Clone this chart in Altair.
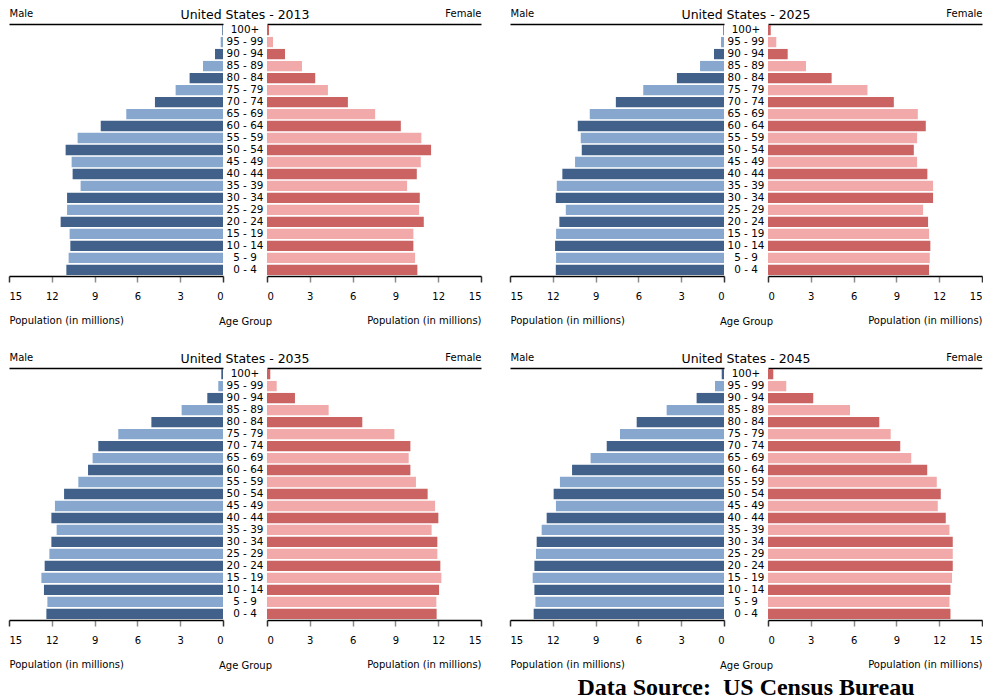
import altair as alt
import pandas as pd

FONT = "DejaVu Sans"

ages = ["0 - 4", "5 - 9", "10 - 14", "15 - 19", "20 - 24", "25 - 29", "30 - 34",
        "35 - 39", "40 - 44", "45 - 49", "50 - 54", "55 - 59", "60 - 64", "65 - 69",
        "70 - 74", "75 - 79", "80 - 84", "85 - 89", "90 - 94", "95 - 99", "100+"]
order_top_down = ages[::-1]

male_2013 = [10.98, 10.82, 10.70, 10.75, 11.38, 10.93, 10.93, 9.98, 10.54, 10.61, 11.03,
             10.19, 8.57, 6.78, 4.77, 3.32, 2.34, 1.40, 0.56, 0.16, 0.05]
female_2013 = [10.54, 10.38, 10.26, 10.26, 10.99, 10.66, 10.71, 9.82, 10.50, 10.78, 11.50,
               10.82, 9.38, 7.58, 5.67, 4.27, 3.38, 2.45, 1.26, 0.42, 0.14]
male_2025 = [11.79, 11.77, 11.84, 11.77, 11.54, 11.09, 11.79, 11.72, 11.33, 10.44, 9.97,
             10.04, 10.25, 9.41, 7.58, 5.66, 3.30, 1.68, 0.70, 0.21, 0.05]
female_2025 = [11.29, 11.34, 11.38, 11.29, 11.22, 10.87, 11.57, 11.57, 11.17, 10.45, 10.22,
               10.45, 11.06, 10.50, 8.82, 6.97, 4.46, 2.66, 1.38, 0.58, 0.19]
male_2035 = [12.38, 12.31, 12.55, 12.73, 12.50, 12.17, 12.03, 11.66, 12.03, 11.78, 11.14,
             10.14, 9.46, 9.14, 8.74, 7.34, 5.02, 2.90, 1.10, 0.33, 0.12]
female_2035 = [11.89, 11.87, 12.06, 12.22, 12.15, 11.94, 11.94, 11.54, 12.01, 11.78, 11.26,
               10.44, 10.05, 9.93, 10.05, 8.93, 6.68, 4.32, 1.96, 0.68, 0.23]
male_2045 = [13.34, 13.22, 13.29, 13.41, 13.29, 13.18, 13.13, 12.78, 12.43, 11.78, 11.94,
             11.50, 10.65, 9.35, 8.22, 7.29, 6.12, 4.02, 1.92, 0.63, 0.16]
female_2045 = [12.79, 12.72, 12.79, 12.90, 12.95, 12.95, 12.95, 12.72, 12.46, 11.90, 12.11,
               11.83, 11.16, 10.04, 9.27, 8.60, 7.80, 5.75, 3.17, 1.28, 0.37]

ticks = [0, 3, 6, 9, 12, 15]

MALE_DARK, MALE_LIGHT = "#41618b", "#87a7cf"
FEM_DARK, FEM_LIGHT = "#cb6363", "#f1a9a9"

W, H, MID = 214, 252, 44


def yscale():
    return alt.Scale(domain=order_top_down, paddingInner=0.14, paddingOuter=0.08)


def bottom_axis(anchor, align):
    return alt.Axis(
        values=ticks, orient="bottom", grid=False, title="Population (in millions)",
        titleAnchor=anchor, titleAlign=align, titleFont=FONT, titleFontSize=10,
        titleFontWeight="normal", titleColor="black", titlePadding=14,
        labelFont=FONT, labelFontSize=10, labelColor="black", labelPadding=9,
        tickSize=6, tickWidth=1.5,
        tickColor={"condition": {"test": "datum.value == 0 || datum.value == 15", "value": "#333333"}, "value": "#8c8c8c"},
        domainColor="black", domainWidth=1.3,
    )


def top_axis(title, anchor, align):
    return alt.Axis(
        orient="top", labels=False, ticks=False, grid=False, title=title,
        titleAnchor=anchor, titleAlign=align, titleFont=FONT, titleFontSize=10,
        titleFontWeight="normal", titleColor="black", titlePadding=6,
        domainColor="black", domainWidth=1.3,
    )


def side(df, field, reverse, dark, light, top_title, anchor, align, yorient):
    xs = alt.Scale(domain=[0, 15], reverse=reverse, nice=False, zero=True)
    bars = alt.Chart(df).mark_bar().encode(
        x=alt.X(f"{field}:Q", scale=xs, axis=bottom_axis(anchor, align)),
        y=alt.Y("age:N", sort=order_top_down, scale=yscale(),
                axis=alt.Axis(orient=yorient, labels=False, ticks=False, title=None, grid=False,
                              domainColor="black", domainWidth=1.3)),
        color=alt.condition("datum.shade == 'dark'", alt.value(dark), alt.value(light)),
    )
    frame = alt.Chart(df).mark_bar(opacity=0).encode(
        x=alt.X(f"{field}:Q", scale=xs, axis=top_axis(top_title, anchor, align)),
        y=alt.Y("age:N", sort=order_top_down, scale=yscale(), axis=None),
    )
    return alt.layer(bars, frame).resolve_axis(x="independent").properties(width=W, height=H)


def panel(year, male, female, bottom_title=None):
    df = pd.DataFrame({
        "age": ages,
        "male": male,
        "female": female,
        "shade": ["dark" if i % 2 == 0 else "light" for i in range(len(ages))],
    })
    # male scale is reversed: its "end" anchor is the left edge, text must run rightwards
    m = side(df, "male", True, MALE_DARK, MALE_LIGHT, "Male", "end", "left", "left")
    f = side(df, "female", False, FEM_DARK, FEM_LIGHT, "Female", "end", "right", "right")
    mid = alt.Chart(df).mark_text(font=FONT, fontSize=10.4, color="black").encode(
        y=alt.Y("age:N", sort=order_top_down, scale=yscale(), axis=None),
        x=alt.XDatum(0, type="quantitative", scale=alt.Scale(domain=[-1, 1]),
                     axis=alt.Axis(title="Age Group", labels=False, ticks=False, domain=False,
                                   grid=False, titleFont=FONT, titleFontSize=10,
                                   titleFontWeight="normal", titleColor="black", titlePadding=40)),
        text="age:N",
    ).properties(
        width=MID, height=H,
        title=alt.TitleParams(f"United States - {year}", font=FONT, fontSize=12.5,
                              fontWeight="normal", color="black", anchor="middle", offset=3),
    )
    kwargs = dict(spacing=0, bounds="flush")
    if bottom_title:
        kwargs["title"] = alt.TitleParams(bottom_title, orient="bottom", anchor="middle",
                                          font="Liberation Serif", fontSize=24, fontWeight="bold",
                                          color="black", offset=6)
    return alt.hconcat(m, mid, f, **kwargs)


row1 = alt.hconcat(panel(2013, male_2013, female_2013), panel(2025, male_2025, female_2025), spacing=27)
row2 = alt.hconcat(panel(2035, male_2035, female_2035),
                   panel(2045, male_2045, female_2045, "Data Source:\u00a0 US Census Bureau"),
                   spacing=27)

chart = alt.vconcat(row1, row2, spacing=26).properties(
    padding={"left": 0, "top": 0, "right": 0, "bottom": 0},
    background="white",
).configure_view(stroke=None)

chart.save("out.html", embed_options={"renderer": "svg", "actions": False})
